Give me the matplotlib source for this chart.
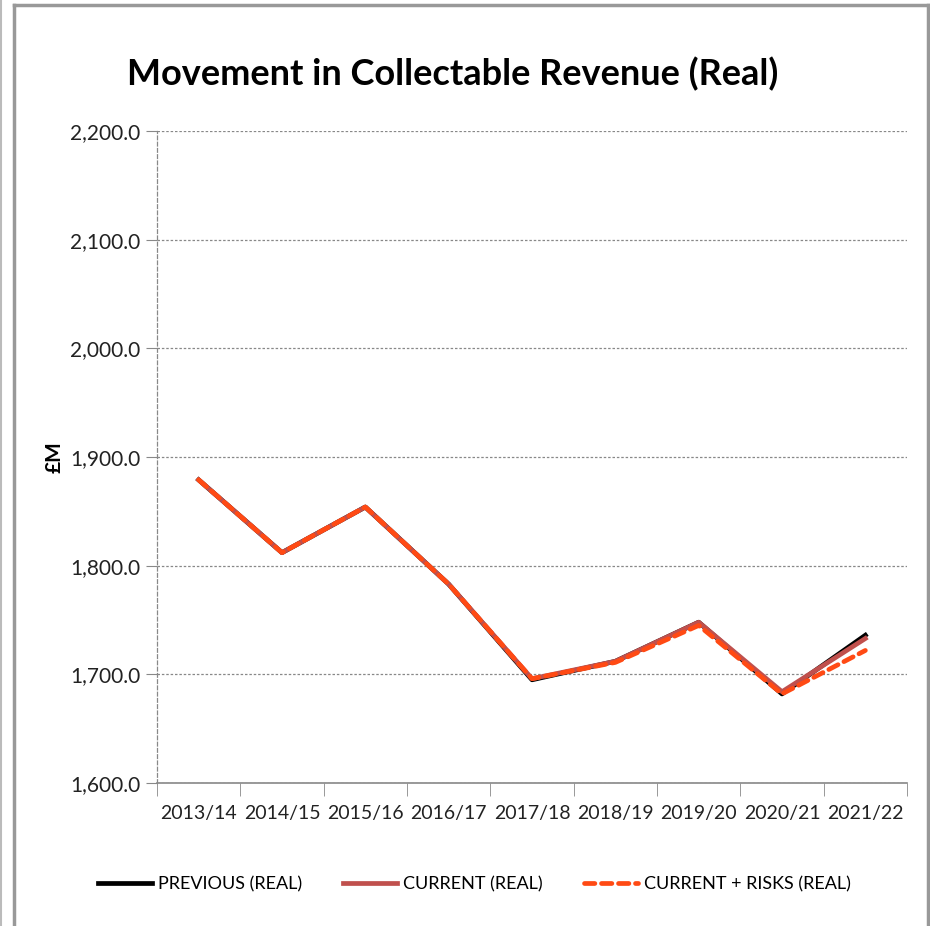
import matplotlib.pyplot as plt
from matplotlib.lines import Line2D
from matplotlib.ticker import FuncFormatter, MultipleLocator
import numpy as np

# data (£M, real terms)
years = ['2013/14', '2014/15', '2015/16', '2016/17', '2017/18',
         '2018/19', '2019/20', '2020/21', '2021/22']
previous = [1879, 1812, 1854, 1783, 1695, 1712, 1748, 1682, 1736]
current = [1879, 1812, 1854, 1783, 1696, 1712, 1748, 1684, 1733]
current_risks = [1879, 1812, 1854, 1783, 1696, 1711, 1745, 1682, 1722]

plt.rcParams['font.family'] = ['Lato', 'DejaVu Sans']

fig = plt.figure(figsize=(9.3, 9.26), dpi=100)
ax = fig.add_axes([0.1688, 0.1544, 0.8065, 0.7041])

x = np.arange(len(years))
ax.plot(x, previous, color='black', lw=3.4, label='PREVIOUS (REAL)', zorder=3)
ax.plot(x, current, color='#C0504D', lw=3.4, label='CURRENT (REAL)', zorder=4)
ax.plot(x, current_risks, color='#FF4A14', lw=3.4, ls=(0, (2.2, 1.4)),
        dash_capstyle='round', label='CURRENT + RISKS (REAL)', zorder=5)

ax.set_xlim(-0.5, len(years) - 0.5)
ax.set_ylim(1600, 2200)
ax.yaxis.set_major_locator(MultipleLocator(100))
ax.yaxis.set_major_formatter(FuncFormatter(lambda v, p: f'{v:,.1f}'))
ax.set_xticks(x)
ax.set_xticklabels(years, color='#222222')
ax.set_xticks(np.arange(len(years) + 1) - 0.5, minor=True)
ax.tick_params(axis='x', which='major', length=0, pad=16, labelsize=14)
ax.tick_params(axis='x', which='minor', length=9, color='#888888', direction='out')
ax.tick_params(axis='y', length=8, color='#888888', labelsize=15, pad=4,
               labelcolor='#222222')

ax.grid(axis='y', color='#888888', ls=(0, (2, 1.5)), lw=0.9)
for s in ['top', 'right']:
    ax.spines[s].set_visible(False)
ax.spines['left'].set_color('#888888')
ax.spines['left'].set_linestyle((0, (3, 2)))
ax.spines['left'].set_linewidth(0.9)
ax.spines['bottom'].set_color('#888888')
ax.spines['bottom'].set_linewidth(1.2)

ax.set_ylabel('£M', fontsize=15, fontweight='bold', labelpad=4)

fig.text(0.487, 0.92, 'Movement in Collectable Revenue (Real)', ha='center', va='center',
         fontsize=26, fontweight='bold')

fig.legend(loc='center', bbox_to_anchor=(0.51, 0.045), ncol=3, frameon=False,
           fontsize=13, handlelength=3.0, handletextpad=0.3, columnspacing=2.3)

# outer frame as in the screenshot
for (xs, ys) in [([0.015, 0.015], [0.0, 0.995]), ([0.015, 0.998], [0.995, 0.995]),
                 ([0.998, 0.998], [0.0, 0.995])]:
    fig.add_artist(Line2D(xs, ys, color='#999999', lw=2.5, transform=fig.transFigure))
fig.add_artist(Line2D([0.001, 0.001], [0, 1], color='#BBBBBB', lw=1.5, transform=fig.transFigure))

fig.savefig('out.png', dpi=100)
